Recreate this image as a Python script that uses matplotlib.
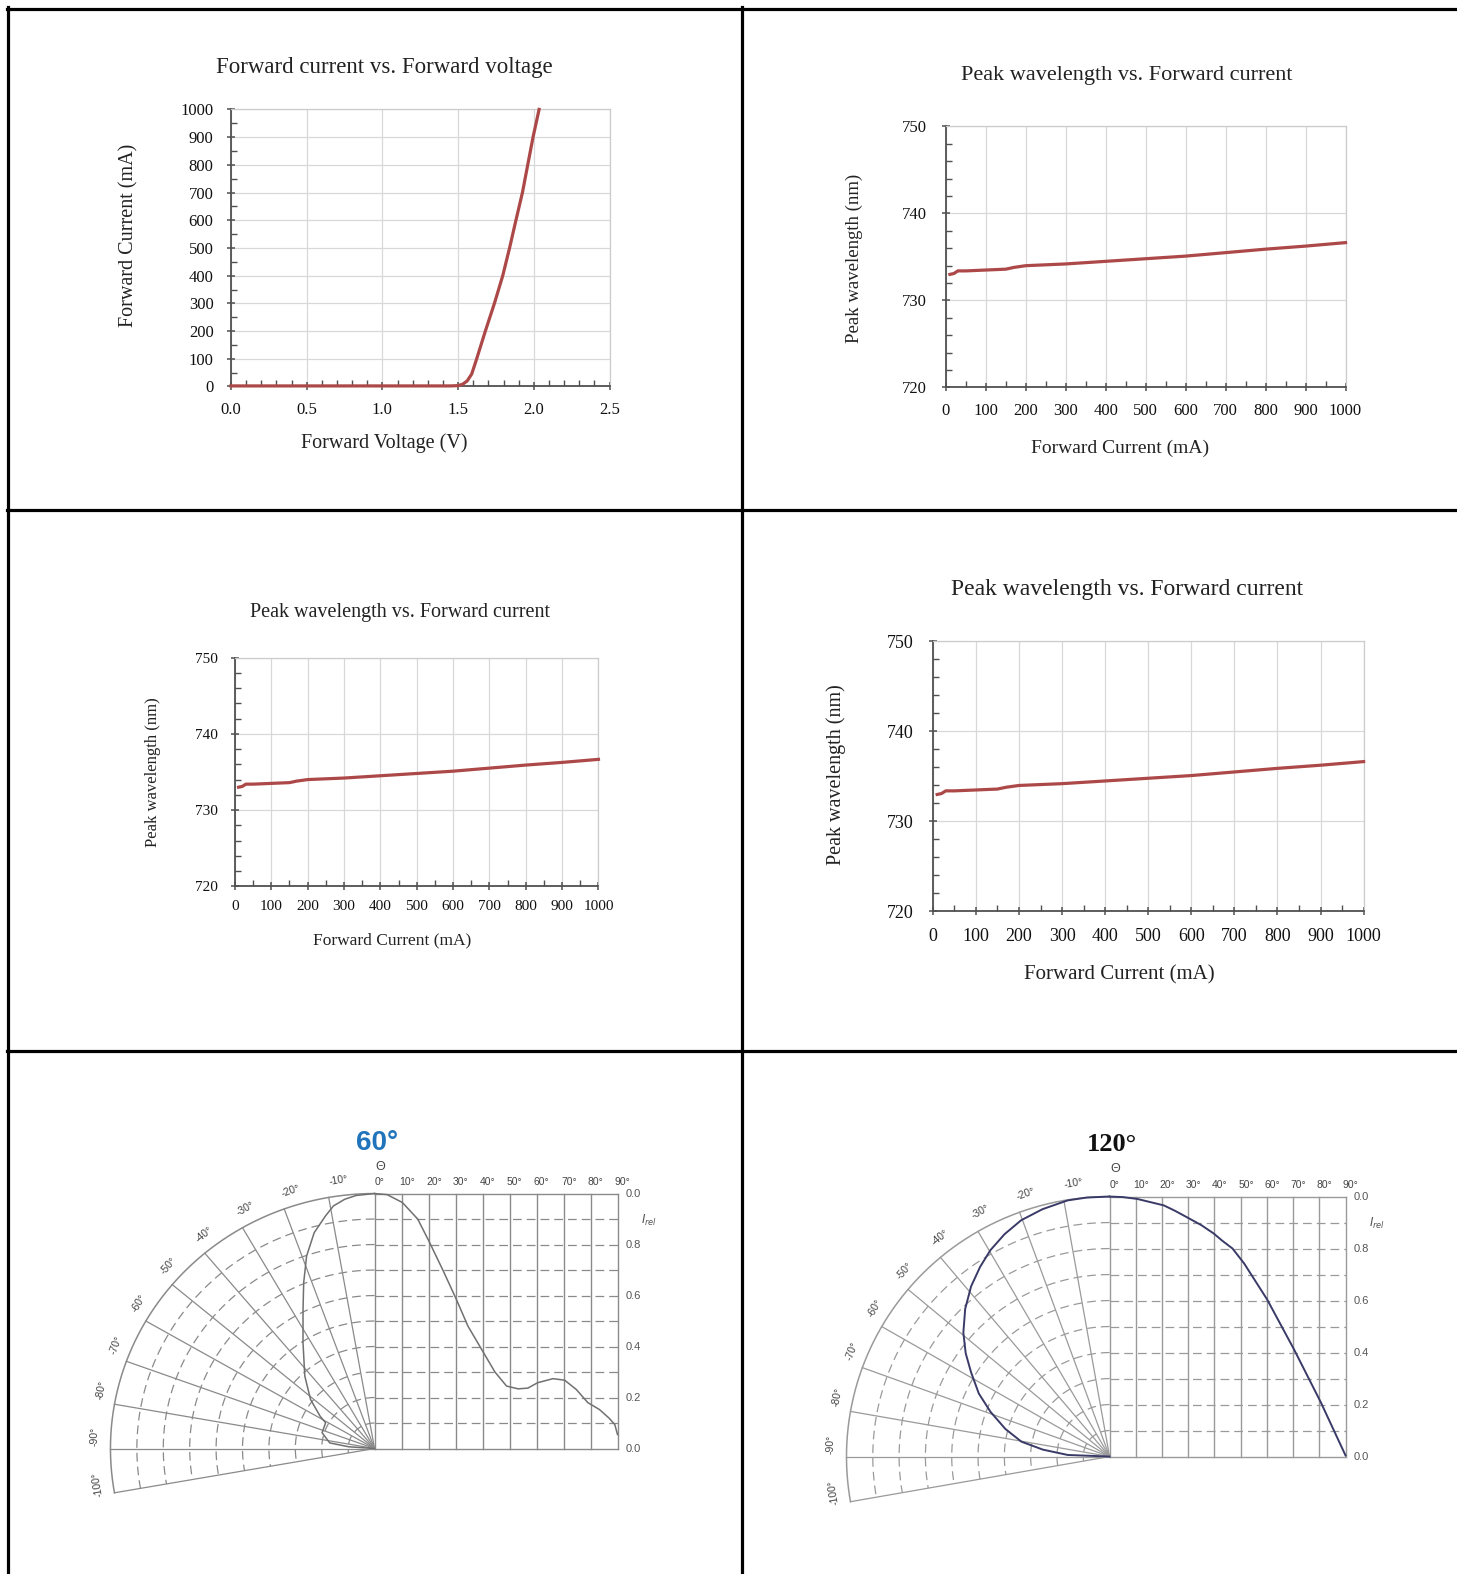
import numpy as np
import matplotlib
matplotlib.use("Agg")
import matplotlib.pyplot as plt
from matplotlib.lines import Line2D
from matplotlib.ticker import MultipleLocator, FormatStrFormatter

# layout was measured on a 1451x1568 preview
W, H = 1451.0, 1568.0

# forward current vs forward voltage
vf_v = [0.0, 0.5, 1.0, 1.45, 1.5, 1.53, 1.56, 1.59, 1.62, 1.68, 1.74, 1.795, 1.84, 1.882, 1.925, 1.96, 1.995, 2.035]
if_ma = [2, 2, 2, 2, 3, 8, 20, 45, 95, 200, 300, 400, 500, 600, 700, 800, 900, 1000]

# peak wavelength vs forward current
cur_ma = [10, 20, 30, 50, 100, 150, 170, 200, 300, 400, 500, 600, 700, 800, 900, 1000]
peak_nm = [733.0, 733.1, 733.4, 733.4, 733.5, 733.6, 733.8, 734.0, 734.2, 734.5, 734.8, 735.1, 735.5, 735.9, 736.25, 736.65]

# radiation characteristics (angle in deg, relative intensity)
r60_left_deg = [0, 4.0, 6.6, 9.3, 11.5, 15.1, 18.8, 22.4, 26.4, 33.1, 42.9, 51.6, 58.4, 61.4, 72.7, 82.6, 86.0, 90]
r60_left_rel = [1.0, 0.995, 0.984, 0.964, 0.931, 0.877, 0.798, 0.704, 0.609, 0.496, 0.388, 0.309, 0.242, 0.211, 0.208, 0.171, 0.098, 0.0]
r60_right_deg = [0, 4.6, 10.3, 16, 20.3, 25.3, 30.3, 34.6, 39.6, 44.6, 48.9, 53.2, 56.8, 60.4, 66.1, 70.4, 74.7, 79, 83.3, 86.8, 89, 90]
r60_right_rel = [1.0, 0.996, 0.965, 0.9, 0.81, 0.70, 0.585, 0.48, 0.39, 0.30, 0.245, 0.234, 0.237, 0.258, 0.274, 0.268, 0.232, 0.18, 0.153, 0.12, 0.094, 0.055]

r120_left_deg = [0, 5, 9.2, 15, 20.3, 25, 29.7, 34, 38.8, 44, 49.4, 54, 58.4, 64, 69.2, 75, 80.3, 84, 87.8, 90]
r120_left_rel = [1.0, 1.0, 0.998, 0.985, 0.969, 0.944, 0.914, 0.88, 0.840, 0.79, 0.732, 0.676, 0.618, 0.553, 0.484, 0.41, 0.340, 0.255, 0.159, 0.0]
r120_right_deg = [0, 5, 10.5, 15, 20.7, 25, 29.4, 35, 39.7, 43, 46.9, 51.3, 60.1, 70.3, 80.5, 90]
r120_right_rel = [1.0, 0.998, 0.991, 0.98, 0.966, 0.945, 0.921, 0.89, 0.858, 0.83, 0.80, 0.743, 0.604, 0.413, 0.21, 0.004]

spoke_deg = [10, 20, 30, 40, 50, 60, 70, 80, 90, 100]
rect_deg = [0, 10, 20, 30, 40, 50, 60, 70, 80, 90]
ring_rel = [0.1, 0.2, 0.3, 0.4, 0.5, 0.6, 0.7, 0.8, 0.9]
rel_ticks = [1.0, 0.8, 0.6, 0.4, 0.2, 0.0]
rel_labels = ["0.0", "0.8", "0.6", "0.4", "0.2", "0.0"]

RED = "#ad4848"
SERIF = "Liberation Serif"

fig = plt.figure(figsize=(14.57, 15.74), dpi=100)


def px_axes(l, t, r, b):
    return fig.add_axes([l / W, 1 - b / H, (r - l) / W, (b - t) / H])


def ptext(x, y, s, **kw):
    kw.setdefault("ha", "center")
    kw.setdefault("va", "center")
    fig.text(x / W, 1 - y / H, s, **kw)


def line_chart(box, x, y, xlim, ylim, xstep, xminor, ystep, yminor, xfmt, fs, padx, pady):
    ax = px_axes(*box)
    ax.plot(x, y, color=RED, lw=2.3, clip_on=False, zorder=3)
    ax.set_xlim(xlim)
    ax.set_ylim(ylim)
    ax.xaxis.set_major_locator(MultipleLocator(xstep))
    ax.xaxis.set_minor_locator(MultipleLocator(xminor))
    ax.yaxis.set_major_locator(MultipleLocator(ystep))
    ax.yaxis.set_minor_locator(MultipleLocator(yminor))
    ax.xaxis.set_major_formatter(FormatStrFormatter(xfmt))
    ax.grid(True, which="major", color="#d8d8d8", lw=0.9)
    ax.set_axisbelow(True)
    for s in ["top", "right"]:
        ax.spines[s].set_color("#cccccc")
        ax.spines[s].set_linewidth(0.9)
    for s in ["left", "bottom"]:
        ax.spines[s].set_color("#505050")
        ax.spines[s].set_linewidth(1.3)
    ax.tick_params(which="major", direction="inout", length=6, width=1.1, color="#505050",
                   labelsize=fs, labelcolor="#111111")
    ax.tick_params(which="minor", direction="in", length=4, width=1.0, color="#505050")
    ax.tick_params(axis="x", which="major", pad=padx)
    ax.tick_params(axis="y", which="major", pad=pady)
    for lab in ax.get_xticklabels() + ax.get_yticklabels():
        lab.set_fontfamily(SERIF)
    return ax


# panel 1
line_chart((230, 109, 607, 385), vf_v, if_ma, (0, 2.5), (0, 1000), 0.5, 0.1, 100, 50, "%.1f", 12, 8, 9.5)
ptext(383, 67, "Forward current vs. Forward voltage", fontsize=16.5, family=SERIF, color="#222")
ptext(383, 441, "Forward Voltage (V)", fontsize=14.5, family=SERIF, color="#222")
ptext(128, 234, "Forward Current (mA)", fontsize=14.5, family=SERIF, color="#222", rotation=90)

# panel 2
line_chart((942, 126, 1340, 386), cur_ma, peak_nm, (0, 1000), (720, 750), 100, 50, 10, 2, "%d", 12, 8.5, 10.5)
ptext(1122, 75, "Peak wavelength vs. Forward current", fontsize=16, family=SERIF, color="#222")
ptext(1115, 447, "Forward Current (mA)", fontsize=14, family=SERIF, color="#222")
ptext(851, 257, "Peak wavelength (nm)", fontsize=13.5, family=SERIF, color="#222", rotation=90)

# panel 3
line_chart((234, 655, 596, 883), cur_ma, peak_nm, (0, 1000), (720, 750), 100, 50, 10, 2, "%d", 11, 6.5, 9)
ptext(398, 610, "Peak wavelength vs. Forward current", fontsize=14.5, family=SERIF, color="#222")
ptext(391, 937, "Forward Current (mA)", fontsize=12.5, family=SERIF, color="#222")
ptext(152, 769, "Peak wavelength (nm)", fontsize=12, family=SERIF, color="#222", rotation=90)

# panel 4
line_chart((929, 639, 1358, 908), cur_ma, peak_nm, (0, 1000), (720, 750), 100, 50, 10, 2, "%d", 13, 9, 11)
ptext(1122, 587, "Peak wavelength vs. Forward current", fontsize=17, family=SERIF, color="#222")
ptext(1115, 971, "Forward Current (mA)", fontsize=15, family=SERIF, color="#222")
ptext(833, 772, "Peak wavelength (nm)", fontsize=14.5, family=SERIF, color="#222", rotation=90)


def radiation(cx, cy, kx, ky, wrect, ldeg, lrel, rdeg, rrel, gcol, ccol, clw, title, tkw):
    x0, x1, y0, y1 = -1.3, 1.3, -0.45, 1.4
    ax = px_axes(cx + x0 * kx, cy - y1 * ky, cx + x1 * kx, cy - y0 * ky)
    ax.set_xlim(x0, x1)
    ax.set_ylim(y0, y1)
    ax.axis("off")
    ax.patch.set_alpha(0)

    dash = (0, (7, 4))
    th = np.radians(np.linspace(0, max(spoke_deg), 300))
    for rr in ring_rel:
        ax.plot(-rr * np.sin(th), rr * np.cos(th), color=gcol, lw=0.9, ls=dash)
    ax.plot(-np.sin(th), np.cos(th), color=gcol, lw=1.1)
    for a in spoke_deg:
        ar = np.radians(a)
        ax.plot([0, -np.sin(ar)], [0, np.cos(ar)], color=gcol, lw=0.9)

    def to_x(d):
        return np.asarray(d, dtype=float) / 90.0 * wrect

    for d in rect_deg:
        ax.plot([to_x(d)] * 2, [0, 1], color=gcol, lw=1.0)
    for rr in ring_rel:
        ax.plot([0, wrect], [rr, rr], color=gcol, lw=0.9, ls=dash)
    ax.plot([0, wrect], [1, 1], color=gcol, lw=1.0)
    ax.plot([0, wrect], [0, 0], color=gcol, lw=1.0)

    la = np.radians(ldeg)
    lr = np.asarray(lrel)
    ax.plot(-lr * np.sin(la), lr * np.cos(la), color=ccol, lw=clw, zorder=4)
    ax.plot(to_x(rdeg), rrel, color=ccol, lw=clw, zorder=4)

    sans = "Liberation Sans"
    for a in spoke_deg:
        ar = np.radians(a - 2.5)
        ax.text(-1.06 * np.sin(ar), 1.06 * np.cos(ar), f"-{a}°", rotation=a, fontsize=7.5,
                family=sans, color="#444", ha="center", va="center", rotation_mode="anchor")
    for d in rect_deg:
        ax.text(to_x(d) + 0.02, 1.045, f"{d}°", fontsize=7.5, family=sans, color="#444",
                ha="center", va="center")
    ax.text(0.02, 1.105, "Θ", fontsize=9, family=sans, color="#444", ha="center", va="center")
    for v, s in zip(rel_ticks, rel_labels):
        ax.text(wrect + 0.03, v, s, fontsize=8, family=sans, color="#555", ha="left", va="center")
    ax.text(wrect + 0.12, 0.895, r"$I_{rel}$", fontsize=8.5, color="#555", ha="center", va="center")
    ax.text(0.01, 1.2, title, ha="center", va="center", **tkw)


radiation(373, 1443, 263, 254, 0.92, r60_left_deg, r60_left_rel, r60_right_deg, r60_right_rel,
          "#8a8a8a", "#707070", 1.1, "60°",
          dict(fontsize=20, family="Liberation Sans", fontweight="bold", color="#1f74bb"))
radiation(1105, 1451, 262, 259, 0.897, r120_left_deg, r120_left_rel, r120_right_deg, r120_right_rel,
          "#9a9a9a", "#3a3a68", 1.4, "120°",
          dict(fontsize=19, family=SERIF, fontweight="bold", color="#111"))

# table borders
def hline(y, x0, x1):
    fig.add_artist(Line2D([x0 / W, x1 / W], [1 - y / H, 1 - y / H], color="black", lw=2.3,
                          transform=fig.transFigure))


def vline(x, y0, y1):
    fig.add_artist(Line2D([x / W, x / W], [1 - y0 / H, 1 - y1 / H], color="black", lw=2.3,
                          transform=fig.transFigure))


hline(8.5, 7, W)
hline(508, 7, W)
hline(1047, 7, W)
vline(8, 7, H)
vline(739, 7, H)

fig.savefig("out.png", dpi=100, facecolor="white")
